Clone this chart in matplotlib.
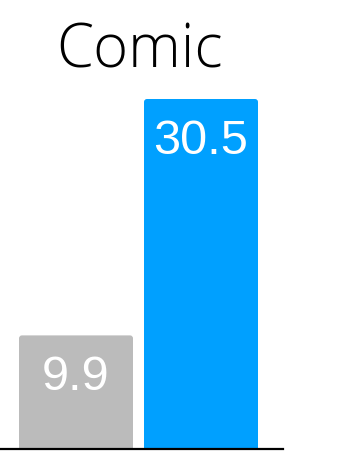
import matplotlib
matplotlib.use("Agg")
import matplotlib.pyplot as plt
from matplotlib.patches import FancyBboxPatch

categories = ["Other", "Comic"]
values = [9.9, 30.5]
colors = ["#BBBBBB", "#00A0FF"]
title = "Comic"

W, H = 359, 462
fig = plt.figure(figsize=(W / 100, H / 100), dpi=100)
# axes box in pixels: left 0, right 283, baseline at 449, top at 99
ax = fig.add_axes([0, 13 / H, 283 / W, 350 / H])
ax.set_xlim(-0.608, 1.656)
ax.set_ylim(0, 30.5)

bars = ax.bar(range(len(values)), values, width=0.912, color=colors)

# swap the plain bars for ones with slightly rounded top corners
x_px = 283 / (1.656 + 0.608)
y_px = 350 / 30.5
r = 3 / x_px
for b in bars:
    b.set_visible(False)
    p = FancyBboxPatch((b.get_x(), -1), b.get_width(), b.get_height() + 1,
                       boxstyle=f"round,pad=0,rounding_size={r}",
                       mutation_aspect=x_px / y_px,
                       facecolor=b.get_facecolor(), edgecolor="none",
                       clip_on=True)
    ax.add_patch(p)

for i, v in enumerate(values):
    ax.annotate(f"{v}", (i, v), xytext=(0, -55 * 0.72), textcoords="offset points",
                ha="center", va="baseline", color="white",
                fontsize=35, family="Liberation Sans")

for s in ["top", "right", "left"]:
    ax.spines[s].set_visible(False)
ax.spines["bottom"].set_linewidth(1.6)
ax.spines["bottom"].set_color("black")
ax.set_xticks([])
ax.set_yticks([])

fig.text(140 / W, 1 - 67 / H, title, ha="center", va="baseline",
         fontsize=43, family="Open Sans", fontweight="light", color="black")

fig.savefig("out.png", dpi=100)
